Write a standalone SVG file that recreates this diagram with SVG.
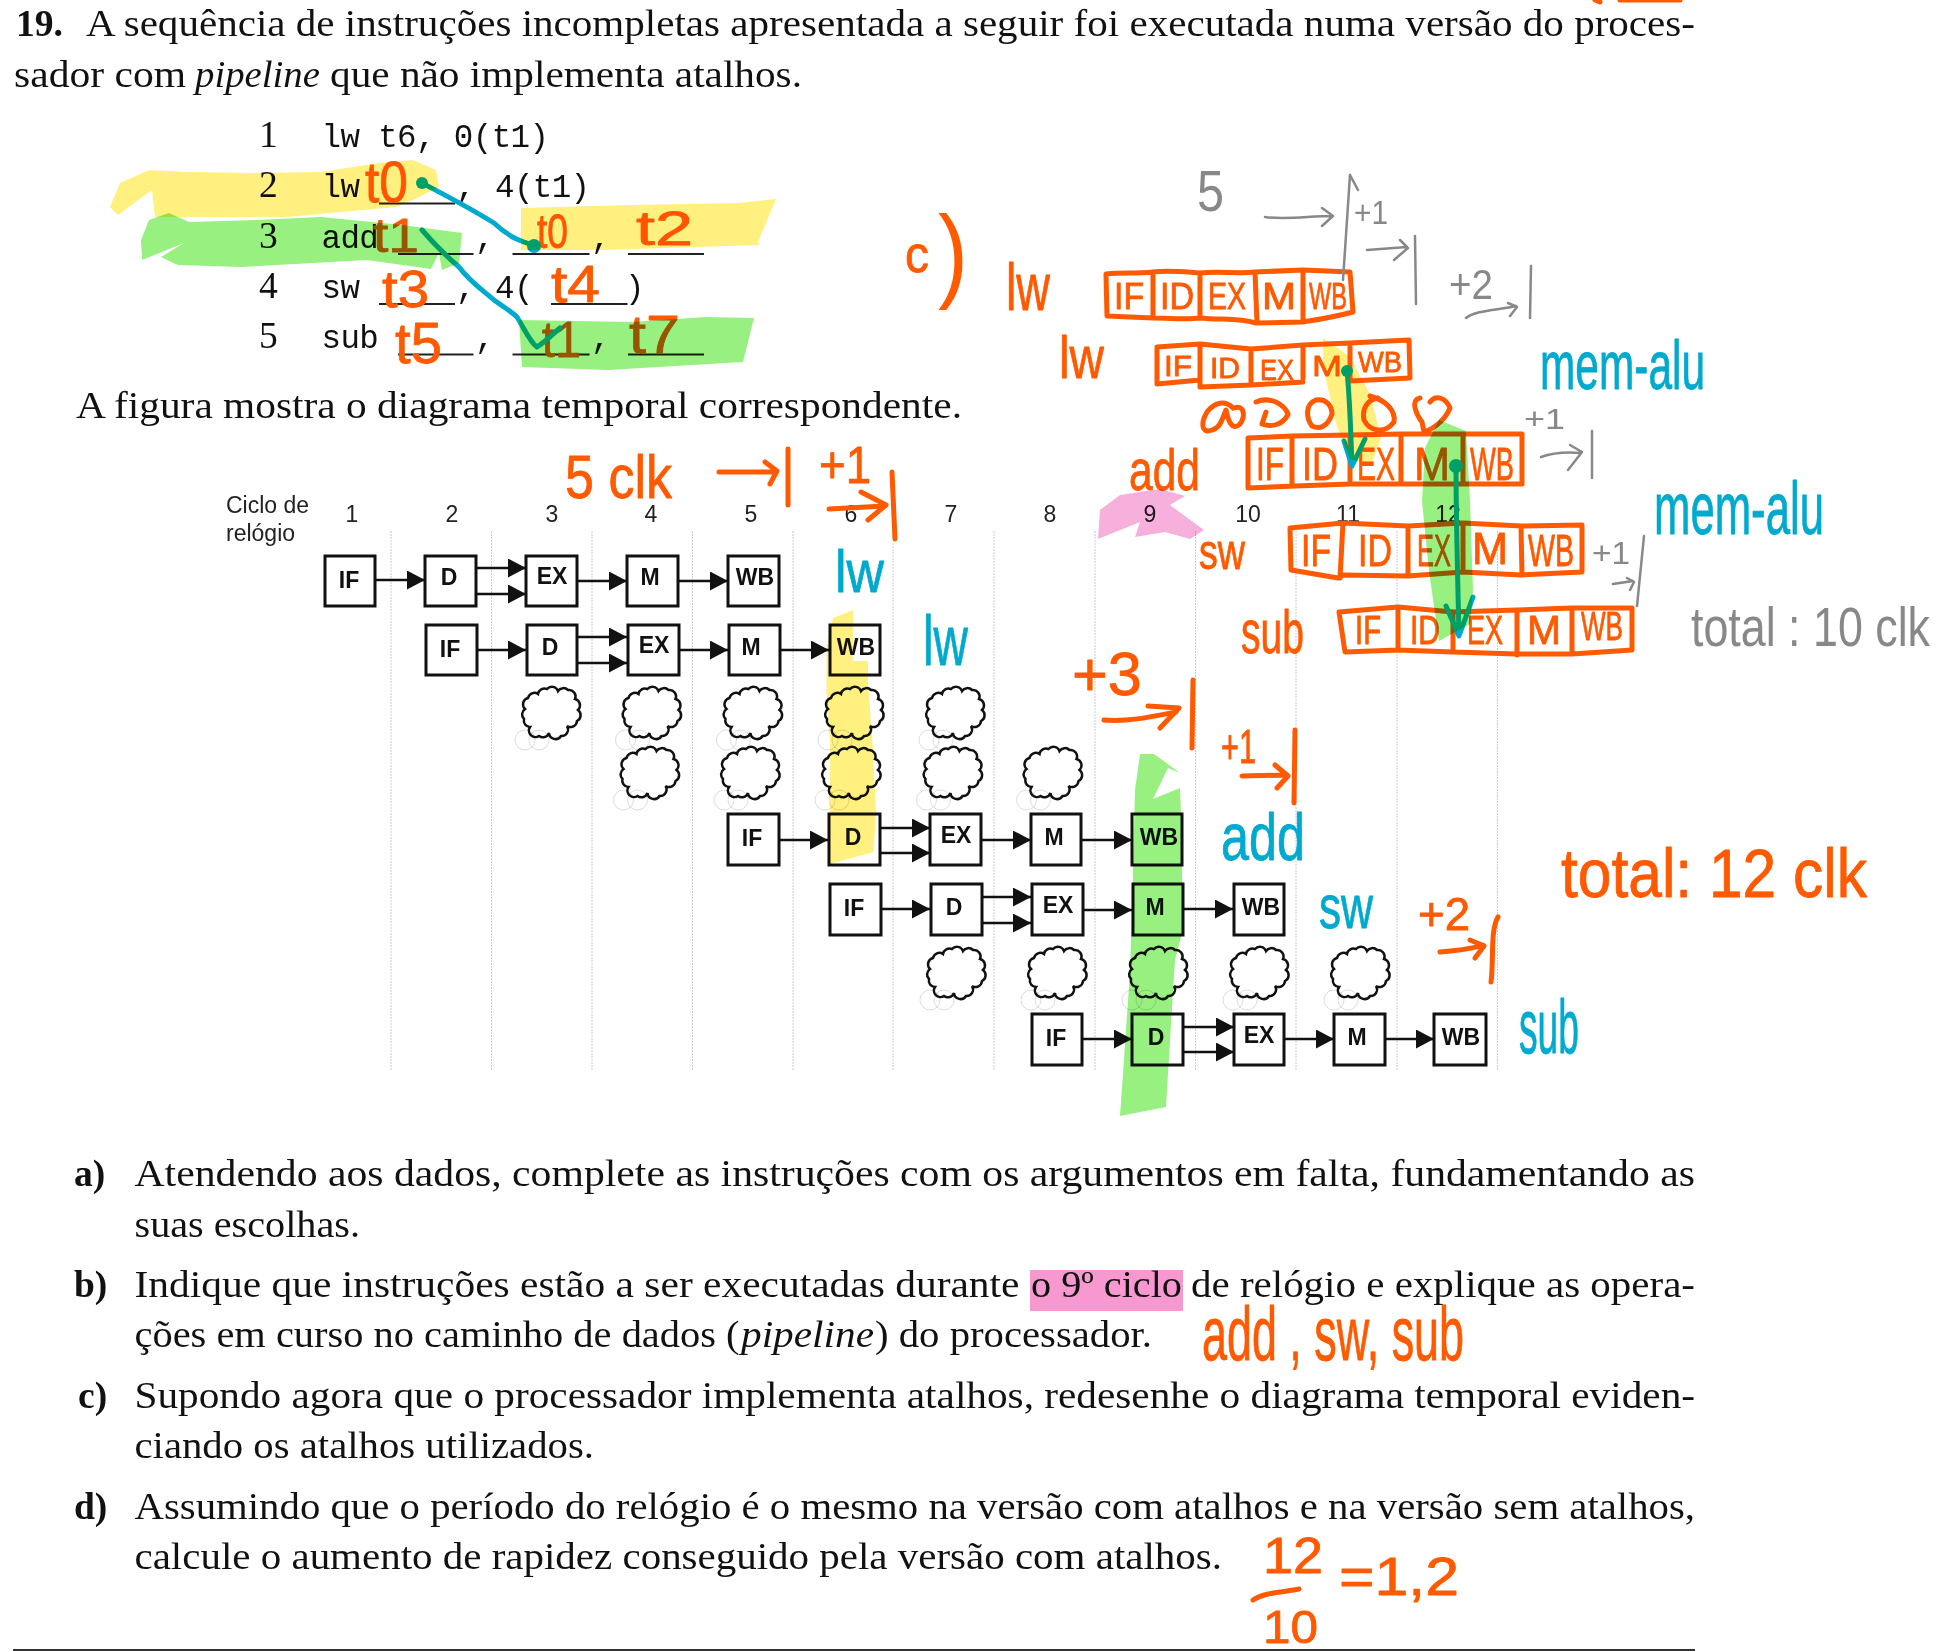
<svg xmlns="http://www.w3.org/2000/svg" width="1949" height="1651" viewBox="0 0 1949 1651">
<style>
text{white-space:pre}
.s{font-family:"Liberation Serif",serif;font-size:37.5px;fill:#111}
.b{font-weight:bold}
.i{font-style:italic}
.m{font-family:"Liberation Mono",monospace;font-size:32.5px;letter-spacing:-.6px;fill:#111}
.h{font-family:"Liberation Sans",Arial,sans-serif;font-size:23px;fill:#222}
.bx{fill:#fff;stroke:#111;stroke-width:3}
.bl{font-family:"Liberation Sans",Arial,sans-serif;font-size:23px;font-weight:bold;fill:#111;text-anchor:middle}
.c{fill:none;stroke:#111;stroke-width:2.5}
.dash{stroke:#ccc;stroke-width:1;stroke-dasharray:2 1}
.u{stroke:#222;stroke-width:2}
.a{stroke:#111;stroke-width:2.5;marker-end:url(#ah)}
.io,.ib,.ig{font-family:"Liberation Sans",Arial,sans-serif;stroke-linejoin:round}
.io{fill:#ff5a00;stroke:#ff5a00;stroke-width:.8}
.ib{fill:#00a9ce;stroke:#00a9ce;stroke-width:.8}
.ig{fill:#888;stroke:none}
.po,.pb,.pg{fill:none;stroke-linecap:round;stroke-linejoin:round}
.po{stroke:#ff5a00;stroke-width:5}
.pb{stroke:#00a9ce;stroke-width:5}
.pg{stroke:#888;stroke-width:2.5}
.y{fill:#fff080;mix-blend-mode:multiply}
.g{fill:#98f080;mix-blend-mode:multiply}
.p{fill:#f7b0dc;mix-blend-mode:multiply}
</style>
<defs>
<marker id="ah" markerUnits="userSpaceOnUse" markerWidth="19" markerHeight="20" refX="18" refY="9.5" orient="auto"><path d="M0,0L18,9.5L0,19z" fill="#111"/></marker>
<g id="cloud">
<circle cx="-26" cy="27" r="10" fill="none" stroke="#ddd" stroke-width="1"/><circle cx="-12" cy="27" r="10" fill="none" stroke="#ddd" stroke-width="1"/>
<path class="c" d="M-26,-4A6.500,6.500 0 0 1 -23,-15A6.500,6.500 0 0 1 -13,-19A6.500,6.500 0 0 1 -4,-24A6.500,6.500 0 0 1 7,-22A6.500,6.500 0 0 1 17,-23A6.500,6.500 0 0 1 24,-14A6.500,6.500 0 0 1 27,-3A6.500,6.500 0 0 1 26,8A6.500,6.500 0 0 1 16,13A6.500,6.500 0 0 1 10,23A6.500,6.500 0 0 1 -2,20A6.500,6.500 0 0 1 -12,23A6.500,6.500 0 0 1 -21,14A6.500,6.500 0 0 1 -27,6A6.500,6.500 0 0 1 -26,-4z"/>
</g>
</defs>
<rect width="1949" height="1651" fill="#fff"/>
<rect id="hl-ciclo" x="1030" y="1270" width="153" height="41" fill="#f799d0"/>

<g id="enunciado">
<text class="s b" x="16" y="36" textLength="47" lengthAdjust="spacingAndGlyphs">19.</text>
<text class="s" x="86" y="36" textLength="1609" lengthAdjust="spacingAndGlyphs">A sequência de instruções incompletas apresentada a seguir foi executada numa versão do proces-</text>
<text class="s" x="14" y="87" textLength="172" lengthAdjust="spacingAndGlyphs">sador com</text>
<text class="s i" x="195" y="87" textLength="125" lengthAdjust="spacingAndGlyphs">pipeline</text>
<text class="s" x="330" y="87" textLength="472" lengthAdjust="spacingAndGlyphs">que não implementa atalhos.</text>
<text class="s" x="76" y="418" textLength="886" lengthAdjust="spacingAndGlyphs">A figura mostra o diagrama temporal correspondente.</text>
</g>

<g id="codigo">
<text class="s" x="259" y="147">1</text><text class="m" x="321.5" y="147">lw t6, 0(t1)</text>
<text class="s" x="259" y="197">2</text><text class="m" x="321.5" y="197">lw</text><text class="m" x="456" y="197">,</text><text class="m" x="495" y="197">4(t1)</text>
<text class="s" x="259" y="248">3</text><text class="m" x="321.5" y="248">add</text><text class="m" x="475" y="248">,</text><text class="m" x="591" y="248">,</text>
<text class="s" x="259" y="298">4</text><text class="m" x="321.5" y="298">sw</text><text class="m" x="456" y="298">,</text><text class="m" x="495" y="298">4(</text><text class="m" x="625" y="298">)</text>
<text class="s" x="259" y="348">5</text><text class="m" x="321.5" y="348">sub</text><text class="m" x="475" y="348">,</text><text class="m" x="591" y="348">,</text>
<path class="u" d="M379,203.500H455M398,254H473.500M512.500,254H589.500M628,254H704M379,304H455M551,304H627.500M398,354.500H473.500M512.500,354.500H589.500M628,354.500H704"/>
</g>

<g id="eixo">
<text class="h" x="226" y="513">Ciclo de</text><text class="h" x="226" y="541">relógio</text>
<g text-anchor="middle"><text class="h" x="352" y="522">1</text><text class="h" x="452" y="522">2</text><text class="h" x="552" y="522">3</text><text class="h" x="651" y="522">4</text><text class="h" x="751" y="522">5</text><text class="h" x="851" y="522">6</text><text class="h" x="951" y="522">7</text><text class="h" x="1050" y="522">8</text><text class="h" x="1150" y="522">9</text><text class="h" x="1248" y="522">10</text><text class="h" x="1348" y="522">11</text><text class="h" x="1448" y="522">12</text></g>
<path class="dash" d="M391,531V1070M491.500,531V1070M592,531V1070M692.500,531V1070M793,531V1070M893,531V1070M994,531V1070M1095,531V1070M1195.500,531V1070M1296,531V1070M1397,531V1070M1497.500,531V1070"/>
</g>

<g id="connectors">
<line class="a" x1="375" y1="580" x2="425" y2="580"/><line class="a" x1="476" y1="568" x2="526" y2="568"/><line class="a" x1="476" y1="594" x2="526" y2="594"/><line class="a" x1="577" y1="581" x2="627" y2="581"/><line class="a" x1="678" y1="581" x2="728" y2="581"/>
<line class="a" x1="477" y1="650" x2="526" y2="650"/><line class="a" x1="577" y1="637" x2="627" y2="637"/><line class="a" x1="577" y1="663" x2="627" y2="663"/><line class="a" x1="679" y1="650" x2="728" y2="650"/><line class="a" x1="780" y1="650" x2="829" y2="650"/>
<line class="a" x1="779" y1="840" x2="828" y2="840"/><line class="a" x1="880" y1="828" x2="930" y2="828"/><line class="a" x1="880" y1="853" x2="930" y2="853"/><line class="a" x1="981" y1="840" x2="1031" y2="840"/><line class="a" x1="1081" y1="840" x2="1132" y2="840"/>
<line class="a" x1="881" y1="909" x2="930" y2="909"/><line class="a" x1="982" y1="897" x2="1031" y2="897"/><line class="a" x1="982" y1="923" x2="1031" y2="923"/><line class="a" x1="1083" y1="910" x2="1132" y2="910"/><line class="a" x1="1183" y1="909" x2="1233" y2="909"/>
<line class="a" x1="1082" y1="1039" x2="1132" y2="1039"/><line class="a" x1="1183" y1="1027" x2="1234" y2="1027"/><line class="a" x1="1183" y1="1052" x2="1234" y2="1052"/><line class="a" x1="1284" y1="1039" x2="1334" y2="1039"/><line class="a" x1="1385" y1="1039" x2="1434" y2="1039"/>
</g>

<g id="i1-if"><rect class="bx" x="325" y="556" width="50" height="50"/><text class="bl" x="349" y="588">IF</text></g>
<g id="i1-d"><rect class="bx" x="425" y="556" width="51" height="50"/><text class="bl" x="449" y="585">D</text></g>
<g id="i1-ex"><rect class="bx" x="526" y="556" width="51" height="50"/><text class="bl" x="552" y="584">EX</text></g>
<g id="i1-m"><rect class="bx" x="627" y="556" width="51" height="50"/><text class="bl" x="650" y="585">M</text></g>
<g id="i1-wb"><rect class="bx" x="728" y="556" width="51" height="50"/><text class="bl" x="755" y="585">WB</text></g>
<g id="i2-if"><rect class="bx" x="426" y="625" width="51" height="50"/><text class="bl" x="450" y="657">IF</text></g>
<g id="i2-d"><rect class="bx" x="527" y="625" width="50" height="50"/><text class="bl" x="550" y="655">D</text></g>
<g id="i2-ex"><rect class="bx" x="628" y="625" width="51" height="50"/><text class="bl" x="654" y="653">EX</text></g>
<g id="i2-m"><rect class="bx" x="729" y="625" width="51" height="50"/><text class="bl" x="751" y="655">M</text></g>
<g id="i2-wb"><rect class="bx" x="830" y="625" width="50" height="50"/><text class="bl" x="856" y="655">WB</text></g>
<g id="i3-if"><rect class="bx" x="728" y="814" width="51" height="51"/><text class="bl" x="752" y="846">IF</text></g>
<g id="i3-d"><rect class="bx" x="829" y="814" width="51" height="51"/><text class="bl" x="853" y="845">D</text></g>
<g id="i3-ex"><rect class="bx" x="930" y="814" width="51" height="51"/><text class="bl" x="956" y="843">EX</text></g>
<g id="i3-m"><rect class="bx" x="1031" y="814" width="50" height="51"/><text class="bl" x="1054" y="845">M</text></g>
<g id="i3-wb"><rect class="bx" x="1132" y="814" width="50" height="51"/><text class="bl" x="1159" y="845">WB</text></g>
<g id="i4-if"><rect class="bx" x="830" y="884" width="51" height="51"/><text class="bl" x="854" y="916">IF</text></g>
<g id="i4-d"><rect class="bx" x="931" y="884" width="51" height="51"/><text class="bl" x="954" y="915">D</text></g>
<g id="i4-ex"><rect class="bx" x="1032" y="884" width="51" height="51"/><text class="bl" x="1058" y="913">EX</text></g>
<g id="i4-m"><rect class="bx" x="1133" y="884" width="50" height="51"/><text class="bl" x="1155" y="915">M</text></g>
<g id="i4-wb"><rect class="bx" x="1234" y="884" width="50" height="51"/><text class="bl" x="1261" y="915">WB</text></g>
<g id="i5-if"><rect class="bx" x="1032" y="1014" width="50" height="51"/><text class="bl" x="1056" y="1046">IF</text></g>
<g id="i5-d"><rect class="bx" x="1132" y="1014" width="51" height="51"/><text class="bl" x="1156" y="1045">D</text></g>
<g id="i5-ex"><rect class="bx" x="1234" y="1014" width="50" height="51"/><text class="bl" x="1259" y="1043">EX</text></g>
<g id="i5-m"><rect class="bx" x="1334" y="1014" width="51" height="51"/><text class="bl" x="1357" y="1045">M</text></g>
<g id="i5-wb"><rect class="bx" x="1434" y="1014" width="52" height="51"/><text class="bl" x="1461" y="1045">WB</text></g>

<g id="bolhas">
<use href="#cloud" x="551" y="713"/><use href="#cloud" x="651.500" y="713"/><use href="#cloud" x="752.500" y="713"/><use href="#cloud" x="854" y="713"/><use href="#cloud" x="955" y="713"/>
<use href="#cloud" x="649.500" y="773"/><use href="#cloud" x="750" y="773"/><use href="#cloud" x="851" y="773"/><use href="#cloud" x="952.500" y="773"/><use href="#cloud" x="1052.500" y="773"/>
<use href="#cloud" x="956" y="973"/><use href="#cloud" x="1057" y="973"/><use href="#cloud" x="1158" y="973"/><use href="#cloud" x="1259" y="973"/><use href="#cloud" x="1360" y="973"/>
</g>

<g id="alineas">
<text class="s b" x="74" y="1186">a)</text>
<text class="s" x="134.500" y="1186" textLength="1560.500" lengthAdjust="spacingAndGlyphs">Atendendo aos dados, complete as instruções com os argumentos em falta, fundamentando as</text>
<text class="s" x="134.500" y="1237" textLength="225.500" lengthAdjust="spacingAndGlyphs">suas escolhas.</text>
<text class="s b" x="74" y="1297">b)</text>
<text class="s" x="134.500" y="1297" textLength="885" lengthAdjust="spacingAndGlyphs">Indique que instruções estão a ser executadas durante</text>
<text class="s" x="1031" y="1297" textLength="151" lengthAdjust="spacingAndGlyphs">o 9º ciclo</text>
<text class="s" x="1191" y="1297" textLength="504" lengthAdjust="spacingAndGlyphs">de relógio e explique as opera-</text>
<text class="s" x="134.500" y="1347" textLength="605" lengthAdjust="spacingAndGlyphs">ções em curso no caminho de dados (</text>
<text class="s i" x="741" y="1347" textLength="133" lengthAdjust="spacingAndGlyphs">pipeline</text>
<text class="s" x="875" y="1347" textLength="277" lengthAdjust="spacingAndGlyphs">) do processador.</text>
<text class="s b" x="78" y="1408">c)</text>
<text class="s" x="134.500" y="1408" textLength="1560.500" lengthAdjust="spacingAndGlyphs">Supondo agora que o processador implementa atalhos, redesenhe o diagrama temporal eviden-</text>
<text class="s" x="134.500" y="1458" textLength="459.500" lengthAdjust="spacingAndGlyphs">ciando os atalhos utilizados.</text>
<text class="s b" x="74" y="1519">d)</text>
<text class="s" x="134.500" y="1519" textLength="1560.500" lengthAdjust="spacingAndGlyphs">Assumindo que o período do relógio é o mesmo na versão com atalhos e na versão sem atalhos,</text>
<text class="s" x="134.500" y="1569" textLength="1087.500" lengthAdjust="spacingAndGlyphs">calcule o aumento de rapidez conseguido pela versão com atalhos.</text>
<line x1="13" y1="1650" x2="1695" y2="1650" stroke="#333" stroke-width="2"/>
</g>

<g id="tinta-topo"><path class="po" d="M1595,0L1600,2M1620,0H1680" stroke-width="3"/></g>

<g id="tinta-codigo">
<text class="io" x="365" y="202" font-size="58" textLength="43" lengthAdjust="spacingAndGlyphs">t0</text>
<text class="io" x="373" y="252" font-size="48" textLength="46" lengthAdjust="spacingAndGlyphs">t1</text>
<text class="io" x="537" y="248" font-size="48" textLength="31" lengthAdjust="spacingAndGlyphs">t0</text>
<text class="io" x="636" y="245" font-size="48" textLength="57" lengthAdjust="spacingAndGlyphs">t2</text>
<text class="io" x="382" y="307" font-size="52" textLength="47" lengthAdjust="spacingAndGlyphs">t3</text>
<text class="io" x="551" y="302" font-size="52" textLength="49" lengthAdjust="spacingAndGlyphs">t4</text>
<text class="io" x="395" y="363" font-size="58" textLength="47" lengthAdjust="spacingAndGlyphs">t5</text>
<text class="io" x="542" y="357" font-size="50" textLength="39" lengthAdjust="spacingAndGlyphs">t1</text>
<text class="io" x="629" y="353" font-size="54" textLength="51" lengthAdjust="spacingAndGlyphs">t7</text>
<path class="pb" d="M422,183C445,195 470,208 494,223C510,238 522,242 534,245"/>
<circle cx="422" cy="183" r="6" fill="#00a9ce"/><circle cx="534" cy="246" r="7" fill="#00a9ce"/>
<path class="pb" d="M422,230C435,245 445,255 459,267C470,282 485,292 494,300C505,308 512,312 517,317C525,330 530,342 537,347C545,342 552,335 560,328"/>
</g>

<g id="tinta-diagrama">
<text class="io" x="565" y="498" font-size="62" textLength="107" lengthAdjust="spacingAndGlyphs">5 clk</text>
<path class="po" d="M719,472H776M765,462L777,471L770,484M788,449V505"/>
<text class="io" x="819" y="483" font-size="52" textLength="52" lengthAdjust="spacingAndGlyphs">+1</text>
<path class="po" d="M829,509L885,506M861,492L886,505L868,520M892,472L895,539"/>
<text class="ib" x="835" y="592" font-size="60" textLength="49" lengthAdjust="spacingAndGlyphs">lw</text>
<text class="ib" x="923" y="665" font-size="70" textLength="45" lengthAdjust="spacingAndGlyphs">lw</text>
<text class="io" x="1072" y="695" font-size="62" textLength="70" lengthAdjust="spacingAndGlyphs">+3</text>
<path class="po" d="M1104,720C1130,722 1155,716 1176,712M1148,706L1179,708L1160,728M1193,680L1192,748"/>
<text class="io" x="1221" y="763" font-size="48" textLength="35" lengthAdjust="spacingAndGlyphs">+1</text>
<path class="po" d="M1242,776L1287,775M1275,765L1288,776L1277,788M1295,730L1294,803"/>
<text class="ib" x="1221" y="860" font-size="66" textLength="84" lengthAdjust="spacingAndGlyphs">add</text>
<text class="ib" x="1319" y="928" font-size="62" textLength="54" lengthAdjust="spacingAndGlyphs">sw</text>
<text class="io" x="1418" y="930" font-size="46" textLength="52" lengthAdjust="spacingAndGlyphs">+2</text>
<path class="po" d="M1440,952C1455,950 1470,950 1483,945M1470,940L1484,946L1475,958M1498,917C1490,930 1494,960 1491,982"/>
<text class="ib" x="1519" y="1053" font-size="76" textLength="60" lengthAdjust="spacingAndGlyphs">sub</text>
<text class="io" x="1561" y="897" font-size="68" textLength="306" lengthAdjust="spacingAndGlyphs">total: 12 clk</text>
</g>

<g id="tinta-c">
<text class="io" x="905" y="272" font-size="52" textLength="24" lengthAdjust="spacingAndGlyphs">c</text>
<text class="io" x="938" y="288" font-size="104" textLength="30" lengthAdjust="spacingAndGlyphs" style="stroke:none">)</text>
<text class="io" x="1006" y="310" font-size="66" textLength="44" lengthAdjust="spacingAndGlyphs">lw</text>
<text class="io" x="1059" y="378" font-size="60" textLength="45" lengthAdjust="spacingAndGlyphs">lw</text>
<text class="io" x="1129" y="490" font-size="58" textLength="71" lengthAdjust="spacingAndGlyphs">add</text>
<text class="io" x="1199" y="569" font-size="50" textLength="46" lengthAdjust="spacingAndGlyphs">sw</text>
<text class="io" x="1241" y="653" font-size="62" textLength="63" lengthAdjust="spacingAndGlyphs">sub</text>

<path class="po" d="M1106,274C1125,272 1135,274 1153,272C1170,270 1185,272 1200,273C1220,271 1238,274 1255,272L1303,270L1350,272L1353,312C1330,318 1315,320 1303,322L1255,323C1240,318 1220,320 1200,318C1185,320 1170,318 1153,318L1107,316ZM1153,272L1153,318M1200,273V318M1255,272L1257,323M1303,270L1303,322"/>
<g class="io" text-anchor="middle" font-size="36"><text x="1129" y="309" textLength="30" lengthAdjust="spacingAndGlyphs">IF</text><text x="1177" y="309" textLength="34" lengthAdjust="spacingAndGlyphs">ID</text><text x="1227" y="309" textLength="38" lengthAdjust="spacingAndGlyphs">EX</text><text x="1279" y="309" textLength="34" lengthAdjust="spacingAndGlyphs">M</text><text x="1328" y="309" textLength="38" lengthAdjust="spacingAndGlyphs">WB</text></g>

<path class="po" d="M1157,347L1200,344L1251,349L1303,345L1350,343L1409,340L1410,378L1350,381M1303,378L1303,345M1157,347L1157,384L1200,380L1200,387L1251,385L1251,349M1200,344V387M1251,385L1303,382M1350,343L1350,381"/>
<g class="io" text-anchor="middle" font-size="30"><text x="1178" y="376" textLength="28" lengthAdjust="spacingAndGlyphs">IF</text><text x="1225" y="378" textLength="30" lengthAdjust="spacingAndGlyphs">ID</text><text x="1277" y="380" textLength="34" lengthAdjust="spacingAndGlyphs">EX</text><text x="1327" y="376" textLength="30" lengthAdjust="spacingAndGlyphs">M</text><text x="1380" y="372" textLength="44" lengthAdjust="spacingAndGlyphs">WB</text></g>

<path class="po" d="M1233,408C1225,400 1215,402 1207,412C1200,424 1202,434 1212,430C1220,428 1222,420 1226,410C1228,420 1232,432 1240,424C1246,416 1244,404 1234,408"/>
<path class="po" d="M1256,402C1270,396 1284,404 1288,414C1284,424 1272,428 1262,424L1266,412"/>
<path class="po" d="M1316,400C1305,404 1306,418 1312,426C1320,430 1328,426 1332,414C1332,406 1326,398 1316,400"/>
<path class="po" d="M1370,396C1385,400 1396,410 1394,422C1385,434 1370,432 1364,420C1362,410 1366,400 1378,398"/>
<path class="po" d="M1420,398C1410,400 1416,414 1422,422L1424,432C1436,428 1446,418 1450,408C1446,398 1436,394 1430,402"/>

<path class="po" d="M1248,438L1292,436L1350,435L1401,434L1463,434L1522,434L1522,484L1462,484L1401,484L1350,484L1296,486L1248,488ZM1292,436V486M1350,435V484M1401,434V484M1463,434V484"/>
<g class="io" text-anchor="middle" font-size="46"><text x="1270" y="480" textLength="28" lengthAdjust="spacingAndGlyphs">IF</text><text x="1320" y="480" textLength="36" lengthAdjust="spacingAndGlyphs">ID</text><text x="1376" y="480" textLength="38" lengthAdjust="spacingAndGlyphs">EX</text><text x="1432" y="480" textLength="36" lengthAdjust="spacingAndGlyphs">M</text><text x="1492" y="480" textLength="44" lengthAdjust="spacingAndGlyphs">WB</text></g>

<path class="po" d="M1290,528L1343,523L1408,526L1463,523L1521,526L1582,525L1582,572L1521,575L1463,572L1408,576L1343,575L1338,578L1291,570ZM1343,523L1340,578M1408,526V576M1463,523V572M1521,526L1522,575"/>
<g class="io" text-anchor="middle" font-size="44"><text x="1316" y="566" textLength="30" lengthAdjust="spacingAndGlyphs">IF</text><text x="1375" y="566" textLength="34" lengthAdjust="spacingAndGlyphs">ID</text><text x="1434" y="566" textLength="34" lengthAdjust="spacingAndGlyphs">EX</text><text x="1490" y="564" textLength="36" lengthAdjust="spacingAndGlyphs">M</text><text x="1551" y="566" textLength="46" lengthAdjust="spacingAndGlyphs">WB</text></g>

<path class="po" d="M1339,612L1398,607L1453,612L1517,610L1572,608L1632,608L1632,650L1572,654L1517,654L1453,652L1398,650L1345,652ZM1398,607V650M1453,612V652M1517,610V655M1572,608V654"/>
<g class="io" text-anchor="middle" font-size="40"><text x="1368" y="644" textLength="26" lengthAdjust="spacingAndGlyphs">IF</text><text x="1425" y="644" textLength="30" lengthAdjust="spacingAndGlyphs">ID</text><text x="1485" y="644" textLength="36" lengthAdjust="spacingAndGlyphs">EX</text><text x="1544" y="644" textLength="34" lengthAdjust="spacingAndGlyphs">M</text><text x="1602" y="640" textLength="42" lengthAdjust="spacingAndGlyphs">WB</text></g>

<text class="ib" x="1540" y="389" font-size="68" textLength="165" lengthAdjust="spacingAndGlyphs">mem-alu</text>
<text class="ib" x="1654" y="534" font-size="74" textLength="170" lengthAdjust="spacingAndGlyphs">mem-alu</text>

<path class="pb" d="M1347,371C1350,400 1351,440 1352,466M1344,441L1352,466L1365,439"/><circle cx="1347" cy="371" r="6" fill="#00a9ce"/>
<path class="pb" d="M1456,466C1456,520 1458,590 1459,636M1446,606L1459,636L1473,597"/><circle cx="1456" cy="466" r="7" fill="#00a9ce"/>

<text class="ig" x="1197" y="211" font-size="58" textLength="27" lengthAdjust="spacingAndGlyphs">5</text>
<path class="pg" d="M1265,217C1285,220 1310,216 1332,216M1322,208L1333,216L1322,226M1350,175L1343,280M1350,175L1358,190"/>
<text class="ig" x="1354" y="224" font-size="34" textLength="34" lengthAdjust="spacingAndGlyphs">+1</text>
<path class="pg" d="M1367,250L1407,247M1400,240L1408,248L1394,260M1415,236L1416,304"/>
<text class="ig" x="1449" y="299" font-size="42" textLength="44" lengthAdjust="spacingAndGlyphs">+2</text>
<path class="pg" d="M1466,318C1475,310 1500,310 1516,306M1508,303L1517,307L1510,316M1531,266L1530,318"/>
<text class="ig" x="1524" y="429" font-size="30" textLength="41" lengthAdjust="spacingAndGlyphs">+1</text>
<path class="pg" d="M1541,457C1555,452 1570,452 1581,453M1570,445L1582,452L1568,470M1592,431V478"/>
<text class="ig" x="1592" y="564" font-size="32" textLength="38" lengthAdjust="spacingAndGlyphs">+1</text>
<path class="pg" d="M1613,584L1633,581M1627,578L1634,582L1630,590M1644,536L1637,606"/>
<text class="ig" transform="translate(1691,646) scale(.8,1)" font-size="56">total : 10 clk</text>
</g>

<g id="tinta-respostas">
<text class="io" x="1202" y="1360" font-size="76" textLength="262" lengthAdjust="spacingAndGlyphs">add , sw, sub</text>
<text class="io" x="1263" y="1573" font-size="50" textLength="60" lengthAdjust="spacingAndGlyphs">12</text>
<path class="po" d="M1253,1600C1265,1592 1285,1592 1299,1589"/>
<text class="io" x="1263" y="1643" font-size="46" textLength="55" lengthAdjust="spacingAndGlyphs">10</text>
<text class="io" x="1339" y="1595" font-size="54" textLength="120" lengthAdjust="spacingAndGlyphs">=1,2</text>
</g>

<g id="realces">
<path class="y" d="M110,207L120,183L149,170L189,172L253,173L321,172L379,163L413,160L436,170L439,187L413,200L396,207L287,217L155,217L152,190L118,215Z"/>
<path class="g" d="M141,240L149,220L169,213L189,222L258,220L321,217L402,225L462,233L459,263L442,270L439,253L431,269L367,260L241,267L178,265L161,257L184,243L142,260Z"/>
<path class="y" d="M521,208L631,205L740,203L776,199L758,242L760,245L603,250L521,250Z"/>
<path class="g" d="M519,320L631,322L706,317L754,318L743,362L608,370L522,367Z"/>
<path class="y" d="M853,610L833,618L826.500,648L826.500,691L830,743.500L830,817L830,864L873.500,852L876,813L872.500,743.500L868,683L868,661L853,661Z"/>
<path class="g" d="M1140,754L1154,754L1180,773L1168,768L1153,799L1180,788L1182,840L1182,933L1175,960L1172,1007L1166,1107L1120,1116L1123,1073L1130,973L1133,873L1135,790Z"/>
<path class="y" d="M1323,338L1350,357L1371,396L1381,438L1371,466L1350,459L1337,427L1323,367Z"/>
<path class="g" d="M1439,420L1466,431L1470,501L1473,589L1470,624L1439,641L1429,571L1422,501L1425,448Z"/>
<path class="p" d="M1098,539L1100,510L1120,495L1160,489L1185,496L1170,505L1204,530L1190,539L1165,532L1135,537L1140,522Z"/>
</g>
</svg>
